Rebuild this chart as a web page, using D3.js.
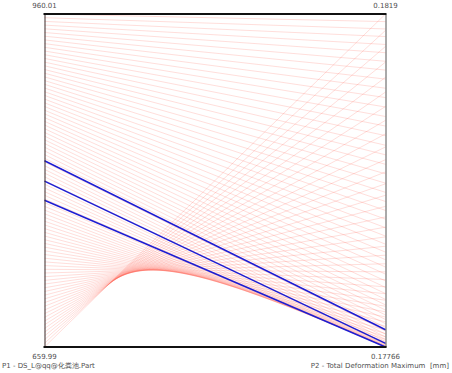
<!DOCTYPE html>
<html><head><meta charset="utf-8">
<script src="https://cdn.jsdelivr.net/npm/d3@7/dist/d3.min.js"></script>
<style>html,body{margin:0;padding:0;background:#fff;}svg{display:block;}text{white-space:pre;}</style>
</head><body>
<svg id="c" width="452" height="373"></svg>
<script>
// ---- data ----
const dimensions = ["P1 - DS_L@qq@化粪池.Part", "P2 - Total Deformation Maximum  [mm]"];
const p1Domain = [659.99, 960.01];
const p2Domain = [0.17766, 0.1819];
const p1TickLabels = ["659.99", "960.01"];
const p2TickLabels = ["0.17766", "0.1819"];

const sampleP1 = [660,663.33,666.67,670,673.33,676.67,680,683.33,686.67,690,693.33,696.67,700,703.33,706.67,710,713.33,716.67,720,723.33,726.67,730,733.33,736.67,740,743.33,746.67,750,753.33,756.67,760,763.33,766.67,770,773.33,776.67,780,783.33,786.67,790,793.33,796.67,800,803.33,806.67,810,813.33,816.67,820,823.33,826.67,830,833.33,836.67,840,843.33,846.67,850,853.33,856.67,860,863.33,866.67,870,873.33,876.67,880,883.33,886.67,890,893.33,896.67,900,903.33,906.67,910,913.33,916.67,920,923.33,926.67,930,933.33,936.67,940,943.33,946.67,950,953.33,956.67,960];
const sampleP2 = [0.18190,0.181691,0.181487,0.181288,0.181094,0.180906,0.180723,0.180546,0.180374,0.180207,0.180045,0.179889,0.179738,0.179592,0.179451,0.179316,0.179186,0.179062,0.178943,0.178829,0.17872,0.178617,0.178519,0.178426,0.178338,0.178256,0.178179,0.178108,0.178042,0.177981,0.177925,0.177875,0.17783,0.17779,0.177755,0.177726,0.177702,0.177684,0.177671,0.177663,0.17766,
0.177662,0.177668,0.177677,0.177691,0.177709,0.177732,0.177758,0.177789,0.177825,0.177864,0.177909,0.177957,0.17801,0.178068,0.17813,0.178196,0.178266,0.17834,0.178419,0.178501,0.178588,0.178678,0.178771,0.178868,0.178969,0.179072,0.179179,0.179288,0.179399,0.179513,0.179629,0.179746,0.179865,0.179986,0.180107,0.180229,0.180351,0.180473,0.180595,0.180716,0.180836,0.180955,0.181071,0.181186,0.181298,0.181407,0.181512,0.181613,0.18171,0.181803];

const candP1 = [827.8, 809.5, 792.2];
const candP2 = [0.17788, 0.177707, 0.17766];

// ---- drawing ----
const svg = d3.select("#c");
const xAxis = d3.scalePoint().domain(dimensions).range([44.5, 385.5]);
const yTop = 14, yBot = 347;
const y1 = d3.scaleLinear().domain(p1Domain).range([yBot, yTop]);
const y2 = d3.scaleLinear().domain(p2Domain).range([yBot, yTop]);
const line = d3.line();

const pts = (a, b) => [[xAxis(dimensions[0]), y1(a)], [xAxis(dimensions[1]), y2(b)]];

const samples = sampleP1.map((v, i) => [v, sampleP2[i]]);
svg.append("g").selectAll("path").data(samples).join("path")
  .attr("d", d => line(pts(d[0], d[1])))
  .attr("fill", "none").attr("stroke", "#ff5040").attr("stroke-opacity", 0.19).attr("stroke-width", 1);

const cands = candP1.map((v, i) => [v, candP2[i]]);
svg.append("g").selectAll("path").data(cands).join("path")
  .attr("d", d => line(pts(d[0], d[1])))
  .attr("fill", "none").attr("stroke", "#1d1dd2").attr("stroke-width", 1.5);

// frame / axes
const xl = xAxis(dimensions[0]), xr = xAxis(dimensions[1]);
const axL = d3.axisLeft(y1).tickValues([]).tickSizeOuter(0);
const axR = d3.axisRight(y2).tickValues([]).tickSizeOuter(0);
svg.append("g").attr("transform", `translate(${xl},0)`).call(axL).select(".domain").attr("stroke", "#3a2a2a").attr("stroke-width", 1);
svg.append("g").attr("transform", `translate(${xr},0)`).call(axR).select(".domain").attr("stroke", "#555").attr("stroke-width", 1);
svg.append("line").attr("x1", xl - 1).attr("x2", xr + 1).attr("y1", yTop).attr("y2", yTop).attr("stroke", "#111").attr("stroke-width", 2);
svg.append("line").attr("x1", xl - 1).attr("x2", xr + 1).attr("y1", yBot).attr("y2", yBot).attr("stroke", "#111").attr("stroke-width", 2);

const font = "DejaVu Sans";
const txt = (x, y, s, anchor) => svg.append("text").attr("x", x).attr("y", y).attr("text-anchor", anchor)
  .attr("font-family", font).attr("font-size", 7).attr("fill", "#505050").text(s);
txt(xl, y1(p1Domain[1]) - 6, p1TickLabels[1], "middle");
txt(xr, y2(p2Domain[1]) - 6, p2TickLabels[1], "middle");
txt(xl, y1(p1Domain[0]) + 12, p1TickLabels[0], "middle");
txt(xr, y2(p2Domain[0]) + 12, p2TickLabels[0], "middle");
txt(2, 367.5, dimensions[0], "start");
txt(449, 367.5, dimensions[1], "end");
</script>
</body></html>
